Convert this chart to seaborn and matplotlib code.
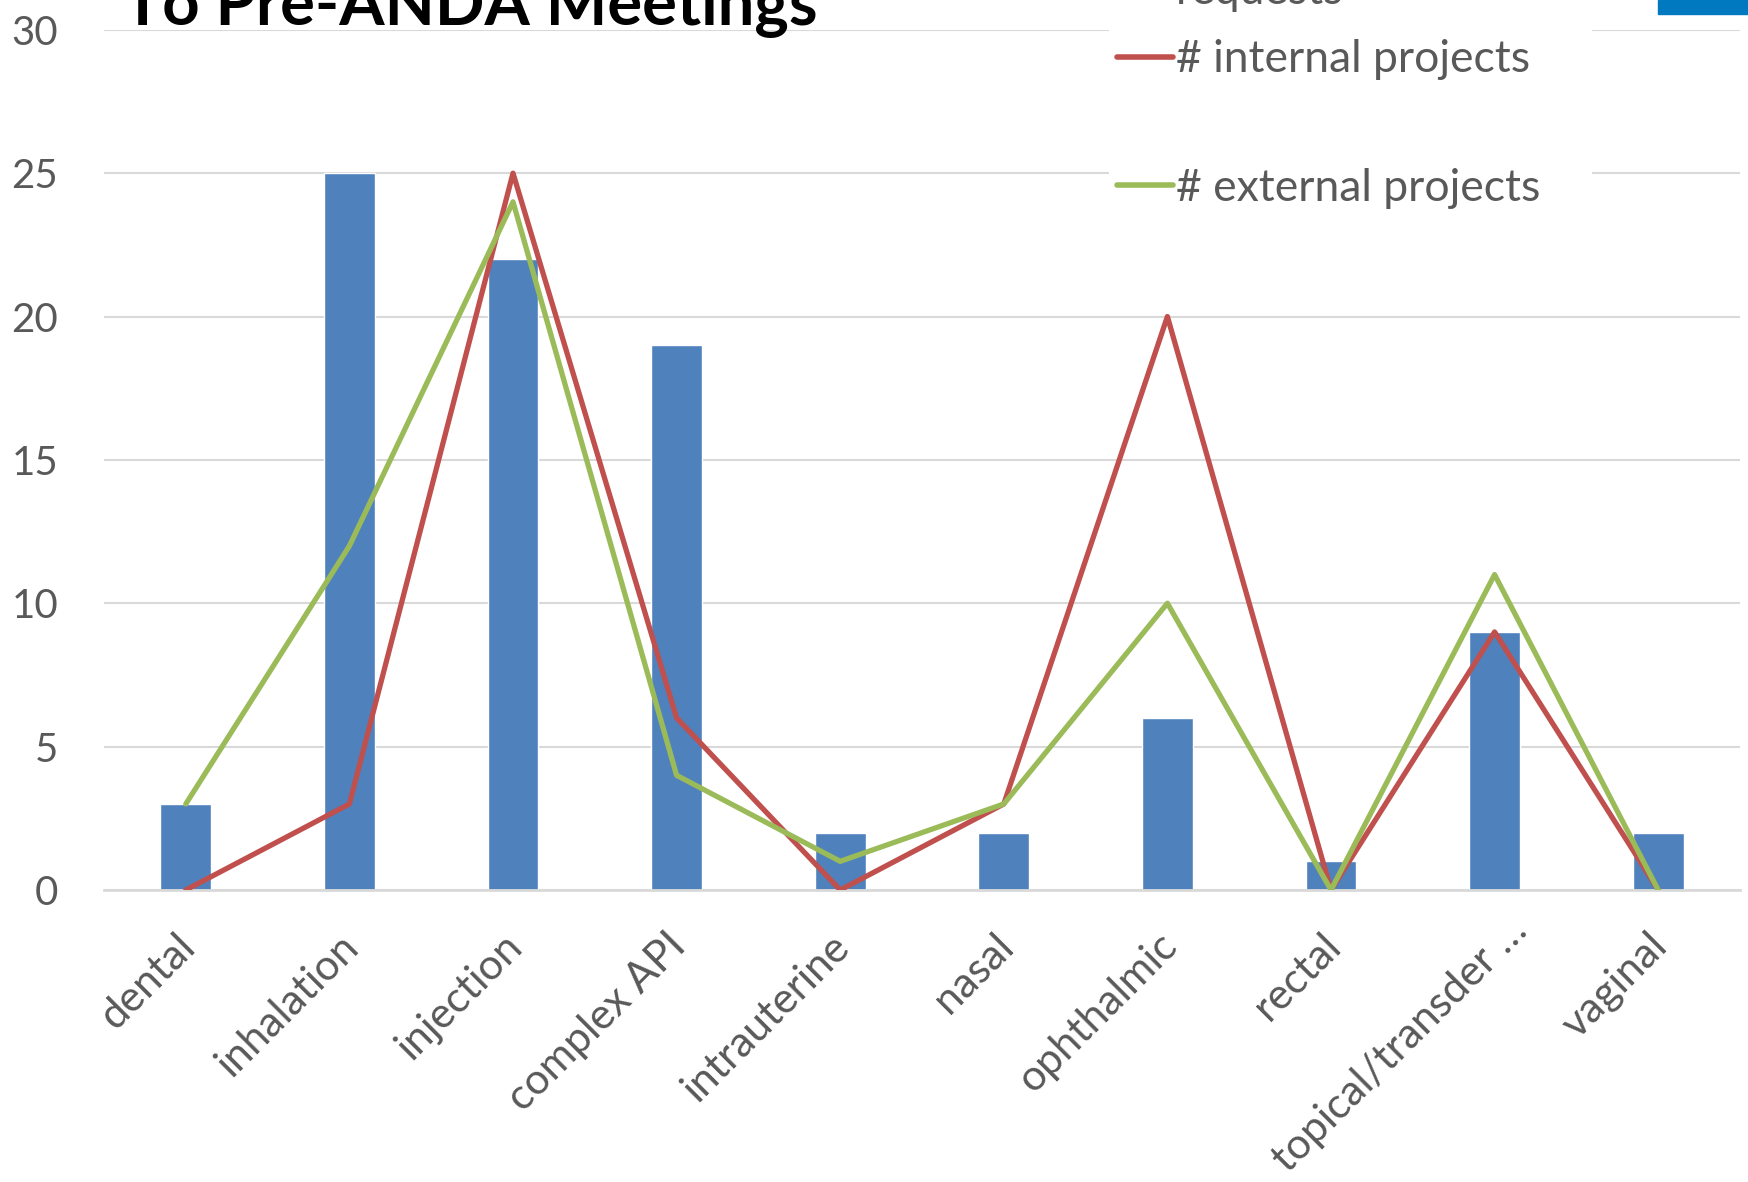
import numpy as np
import pandas as pd
import seaborn as sns
from matplotlib import pyplot as plt
from matplotlib.lines import Line2D
from matplotlib.patches import Rectangle
import matplotlib.transforms as mtransforms

categories = ['dental', 'inhalation', 'injection', 'complex API', 'intrauterine',
              'nasal', 'ophthalmic', 'rectal', 'topical/transder …', 'vaginal']
requests = [3, 25, 22, 19, 2, 2, 6, 1, 9, 2]
internal = [0, 3, 25, 6, 0, 3, 20, 0, 9, 0]
external = [3, 12, 24, 4, 1, 3, 10, 0, 11, 0]

BLUE, RED, GREEN = '#4F81BD', '#C0504D', '#9BBB59'
GREY_TXT, GRID = '#595959', '#D9D9D9'

sns.set_style('white')
plt.rcParams['font.family'] = ['Lato', 'DejaVu Sans']

df = pd.DataFrame({'category': categories, 'pos': np.arange(len(categories)),
                   'requests': requests, 'internal': internal, 'external': external})

W, H = 1748, 1182
fig = plt.figure(figsize=(W / 100, H / 100), dpi=100)
ax = fig.add_axes([104 / W, 1 - 890 / H, 1636 / W, (890 - 29.8) / H])

sns.barplot(data=df, x='pos', y='requests', color=BLUE, width=0.31,
            saturation=1, ax=ax, zorder=2)
sns.lineplot(data=df, x='pos', y='internal', color=RED, lw=3.8, ax=ax, zorder=3)
sns.lineplot(data=df, x='pos', y='external', color=GREEN, lw=3.8, ax=ax, zorder=4)

ax.set_xlim(-0.5, len(categories) - 0.5)
ax.set_ylim(0, 30)
ax.set_yticks(range(0, 31, 5))
ax.set_xticks(df['pos'])
ax.set_xticklabels(categories, rotation=45, ha='right', va='center',
                   rotation_mode='anchor')
ax.set_xlabel('')
ax.set_ylabel('')
ax.grid(axis='y', color=GRID, lw=1.5)
ax.set_axisbelow(True)
for s in ['top', 'right', 'left']:
    ax.spines[s].set_visible(False)
ax.spines['bottom'].set_color(GRID)
ax.spines['bottom'].set_linewidth(2)
ax.tick_params(axis='y', length=0, pad=33, labelsize=29, labelcolor=GREY_TXT)
ax.tick_params(axis='x', length=0, pad=36, labelsize=30.5, labelcolor=GREY_TXT)
for lbl in ax.get_xticklabels():
    # the long truncated label sits a bit further up/right, like in Excel
    if lbl.get_text().endswith('…'):
        dx, dy = 26, 16
    else:
        dx, dy = 3, 0
    shift = mtransforms.ScaledTranslation(dx / 100, dy / 100, fig.dpi_scale_trans)
    lbl.set_transform(lbl.get_transform() + shift)

# white legend area hiding the gridlines behind it
ax.add_patch(Rectangle((1109 / W, 1 - 262 / H), 483 / W, 262 / H,
                       transform=fig.transFigure, facecolor='white',
                       edgecolor='none', zorder=1, clip_on=False))

handles = [Line2D([], [], color=RED, lw=4, solid_capstyle='round'),
           Line2D([], [], color=GREEN, lw=4, solid_capstyle='round')]
leg = ax.legend(handles, ['# internal projects', '# external projects'],
                loc='center left', bbox_to_anchor=(1117 / W, 1 - 124 / H),
                bbox_transform=fig.transFigure, fontsize=32,
                labelcolor=GREY_TXT, frameon=False, borderpad=0,
                borderaxespad=0, labelspacing=1.97, handlelength=1.26,
                handletextpad=0.07)
leg.set_zorder(10)

fig.text(1176 / W, 1 - 4 / H, 'requests', fontsize=32, color=GREY_TXT,
         va='baseline', ha='left', zorder=11)
fig.text(123 / W, 1 - 24.5 / H, 'To Pre-ANDA Meetings', fontsize=47,
         fontweight='bold', color='black', va='baseline', ha='left', zorder=11)
fig.patches.append(Rectangle((1658 / W, 1 - 14 / H), 90 / W, 14 / H,
                             transform=fig.transFigure, color='#0079C1',
                             figure=fig))

fig.savefig('out.png', dpi=100)
